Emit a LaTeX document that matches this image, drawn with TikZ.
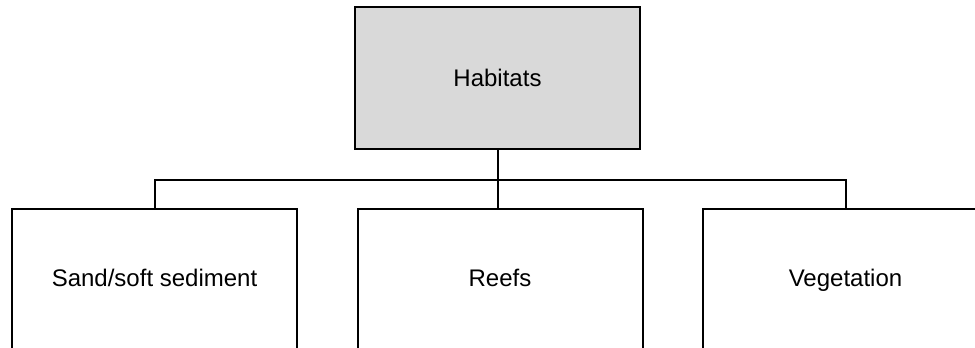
\documentclass[tikz,border=0pt]{standalone}
\usepackage{fontspec}
\setmainfont{Liberation Sans}
\tikzstyle{hb}=[shape=rectangle,draw,line width=1pt,minimum width=142.5pt,minimum height=71pt,inner sep=0pt,text height=8.6pt,text depth=1.8pt,font=\fontsize{12}{14}\selectfont]
\tikzstyle{rootbox}=[hb,fill=black!15,text depth=0pt]
\tikzstyle{link}=[line width=1pt]

\begin{document}
\begin{tikzpicture}[x=0.5pt,y=-0.5pt]
        \useasboundingbox (0,0) rectangle (975,348);
        \clip (0,0) rectangle (975,348);
        \node[rootbox] (hab) at (497.5, 78) {Habitats}
        ;
        \node[hb] (sand) at (154.5, 280) {Sand/soft sediment}
        ;
        \node[hb] (reefs) at (500, 280) {Reefs}
        ;
        \node[hb] (veg) at (845.5, 280) {Vegetation}
        ;
        \coordinate (bus) at (497.5, 179.5);
        \draw[link] (hab.south) -- (hab.south |- reefs.north);
        \draw[link] (sand.north) |- (bus) -| (veg.north);
    \end{tikzpicture}
\end{document}
